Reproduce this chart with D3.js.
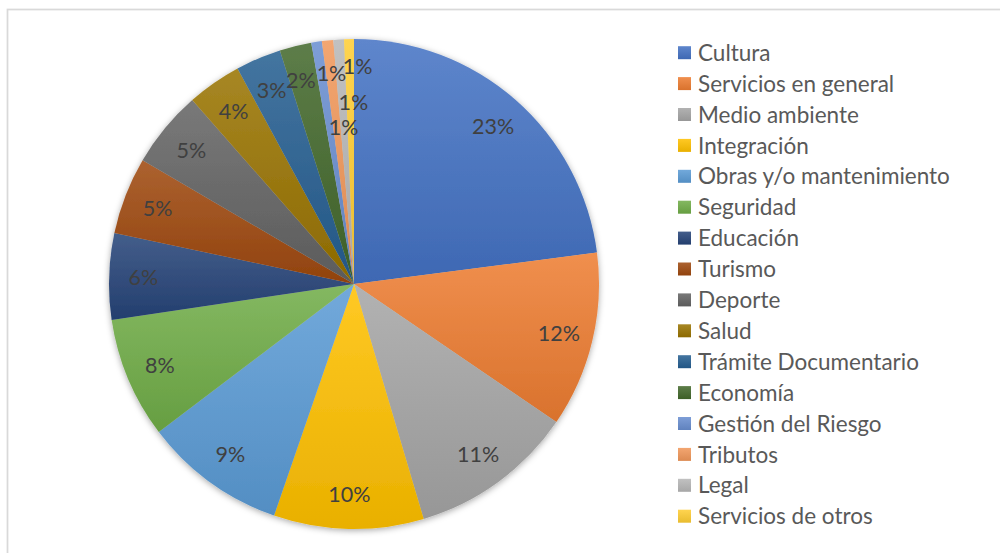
<!DOCTYPE html>
<html>
<head>
<meta charset="utf-8">
<script src="https://cdn.jsdelivr.net/npm/d3@7"></script>
<style>
  html, body { margin: 0; padding: 0; background: #fff; }
  svg { display: block; }
</style>
</head>
<body>
<svg id="chart" width="1000" height="553"></svg>
<script>
// Share of requests by category (percent of total)
const categories = [
  "Cultura", "Servicios en general", "Medio ambiente", "Integración",
  "Obras y/o mantenimiento", "Seguridad", "Educación", "Turismo",
  "Deporte", "Salud", "Trámite Documentario", "Economía",
  "Gestión del Riesgo", "Tributos", "Legal", "Servicios de otros"
];
const values = [23.0, 11.6, 10.9, 9.9, 9.4, 8.0, 5.7, 5.1, 5.1, 3.6, 3.0, 2.1, 0.7, 0.75, 0.7, 0.65];
const colors = [
  "#4472C4", "#ED7D31", "#A5A5A5", "#FFC000", "#5B9BD5", "#70AD47",
  "#264478", "#9E480E", "#636363", "#997300", "#255E91", "#43682B",
  "#698ED0", "#F1975A", "#B7B7B7", "#FFCD33"
];

// Label placement tweaks for the thin slices at the top (radius fraction, angle shift in degrees)
const labelTweaks = {
  "Economía": { r: 0.86, da: -0.8 },
  "Gestión del Riesgo": { r: 0.865, da: 2.7 },
  "Tributos": { r: 0.64, da: 2.4 },
  "Legal": { r: 0.74, da: 3.4 },
  "Servicios de otros": { r: 0.89, da: 2.1 }
};

const svg = d3.select("#chart");
const cx = 354, cy = 284, R = 245;
const fontFamily = "Lato, 'Open Sans', sans-serif";

// Chart area border
svg.append("rect")
  .attr("x", 7.5).attr("y", 9.5)
  .attr("width", 1100).attr("height", 700)
  .attr("fill", "none").attr("stroke", "#D9D9D9").attr("stroke-width", 1.75);

const defs = svg.append("defs");
const shadow = defs.append("filter").attr("id", "pieShadow")
  .attr("x", "-10%").attr("y", "-10%").attr("width", "120%").attr("height", "120%");
shadow.append("feDropShadow")
  .attr("dx", 0).attr("dy", 1.5).attr("stdDeviation", 3)
  .attr("flood-color", "#000").attr("flood-opacity", 0.35);

colors.forEach((c, i) => {
  const g = defs.append("linearGradient").attr("id", "grad" + i)
    .attr("x1", 0).attr("y1", 0).attr("x2", 0).attr("y2", 1);
  g.append("stop").attr("offset", "0%").attr("stop-color", d3.interpolateRgb(c, "#fff")(0.14));
  g.append("stop").attr("offset", "100%").attr("stop-color", d3.color(c).darker(0.25));
});

const data = categories.map((name, i) => ({ name, value: values[i], i }));
const total = d3.sum(values);
const fmt = d3.format(".0%");

const pie = d3.pie().value(d => d.value).sort(null).startAngle(0).endAngle(2 * Math.PI);
const arcs = pie(data);
const arc = d3.arc().innerRadius(0).outerRadius(R);

const gPie = svg.append("g").attr("transform", `translate(${cx},${cy})`);
gPie.append("g").attr("filter", "url(#pieShadow)")
  .selectAll("path").data(arcs).join("path")
  .attr("d", arc)
  .attr("fill", d => `url(#grad${d.data.i})`);

// Percentage labels
gPie.selectAll("text.lbl").data(arcs).join("text")
  .attr("class", "lbl")
  .attr("transform", d => {
    const t = labelTweaks[d.data.name] || { r: 0.86, da: 0 };
    const a = (d.startAngle + d.endAngle) / 2 + t.da * Math.PI / 180;
    const r = R * t.r;
    return `translate(${r * Math.sin(a)},${-r * Math.cos(a)})`;
  })
  .attr("text-anchor", "middle")
  .attr("dy", "0.36em")
  .attr("font-family", fontFamily)
  .attr("font-size", 21.5)
  .attr("fill", "#404040")
  .text(d => fmt(d.data.value / total));

// Legend
const legend = svg.append("g").attr("transform", "translate(678,52.7)");
const rowH = 30.9;
const items = legend.selectAll("g").data(data).join("g")
  .attr("transform", (d, i) => `translate(0,${i * rowH})`);
items.append("rect")
  .attr("x", 0).attr("y", -6.5).attr("width", 13).attr("height", 13)
  .attr("fill", d => `url(#grad${d.i})`);
items.append("text")
  .attr("x", 20).attr("dy", "0.36em")
  .attr("font-family", fontFamily)
  .attr("font-size", 22.5)
  .attr("fill", "#595959")
  .text(d => d.name);
</script>
</body>
</html>
